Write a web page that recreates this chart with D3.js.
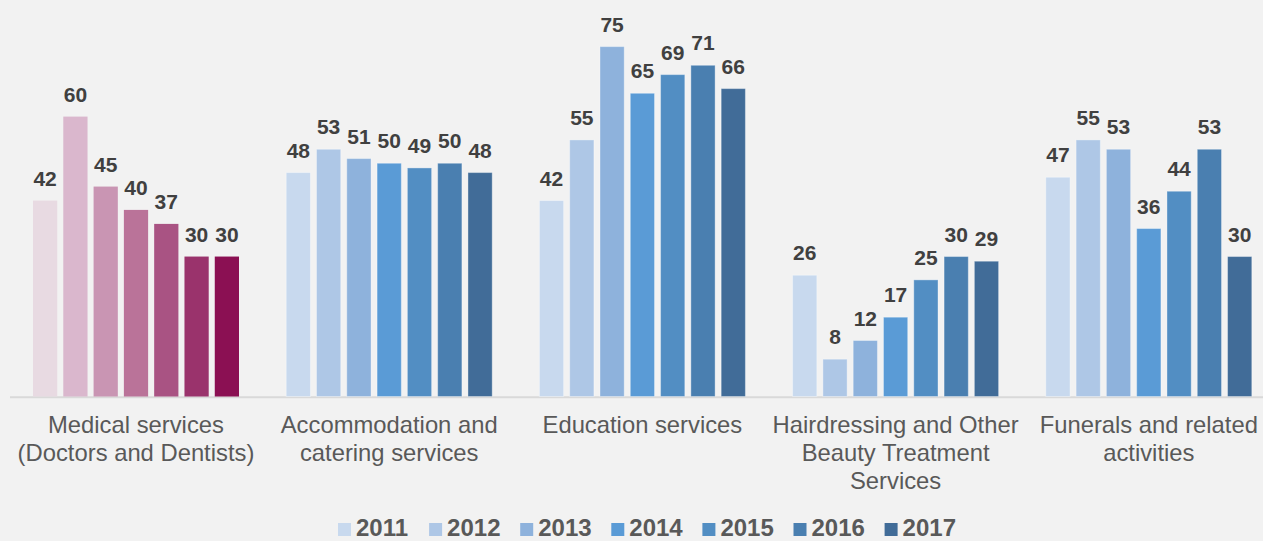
<!DOCTYPE html>
<html>
<head>
<meta charset="utf-8">
<script src="https://cdnjs.cloudflare.com/ajax/libs/d3/7.8.5/d3.min.js"></script>
<style>
  html, body { margin: 0; padding: 0; background: #f2f2f2; }
  svg { display: block; font-family: "Liberation Sans", Arial, sans-serif; }
</style>
</head>
<body>
<svg id="chart" width="1263" height="541"></svg>
<script>
// Service categories (each entry is one wrapped label)
const categories = [
  ["Medical services", "(Doctors and Dentists)"],
  ["Accommodation and", "catering services"],
  ["Education services"],
  ["Hairdressing and Other", "Beauty Treatment", "Services"],
  ["Funerals and related", "activities"]
];
const years = ["2011", "2012", "2013", "2014", "2015", "2016", "2017"];

// Values per category, one entry per year
const medical       = [42, 60, 45, 40, 37, 30, 30];
const accommodation = [48, 53, 51, 50, 49, 50, 48];
const education     = [42, 55, 75, 65, 69, 71, 66];
const hairdressing  = [26, 8, 12, 17, 25, 30, 29];
const funerals      = [47, 55, 53, 36, 44, 53, 30];

const seriesByCategory = [medical, accommodation, education, hairdressing, funerals];

// Year palettes: the medical group has its own shades
const blueColors = ["#c8d9ee", "#aec7e6", "#8eb2dc", "#5a9bd6", "#528ec3", "#4a7fb0", "#416c98"];
const pinkColors = ["#e8dae2", "#dab7cd", "#c995b3", "#ba7399", "#a95383", "#9a336c", "#8b1053"];

const svg = d3.select("#chart");
const baseY = 396.5;

const x0 = d3.scaleBand()
  .domain(d3.range(categories.length))
  .range([9.4, 9.4 + 253.2 * categories.length])
  .paddingInner(0).paddingOuter(0);

const x1 = d3.scaleBand()
  .domain(years)
  .range([23.6, 229.6])
  .paddingInner(0.2).paddingOuter(0);

const y = d3.scaleLinear().domain([0, 80]).range([baseY, 23.3]);

// Baseline
svg.append("line")
  .attr("x1", 10).attr("x2", 1263)
  .attr("y1", baseY + 0.8).attr("y2", baseY + 0.8)
  .attr("stroke", "#d9d9d9").attr("stroke-width", 2);

const groups = svg.selectAll("g.cat")
  .data(seriesByCategory)
  .join("g")
  .attr("class", "cat")
  .attr("transform", (d, i) => `translate(${x0(i)},0)`);

groups.each(function(vals, ci) {
  const g = d3.select(this);
  const palette = ci === 0 ? pinkColors : blueColors;
  const rows = vals.map((v, k) => ({ year: years[k], value: v, color: palette[k] }));

  g.selectAll("rect")
    .data(rows)
    .join("rect")
    .attr("x", d => x1(d.year))
    .attr("width", x1.bandwidth())
    .attr("y", d => y(d.value))
    .attr("height", d => baseY - y(d.value))
    .attr("fill", d => d.color)
    .attr("stroke", ci === 0 ? "none" : "rgba(255,255,255,0.35)")
    .attr("stroke-width", 1);

  g.selectAll("text.val")
    .data(rows)
    .join("text")
    .attr("class", "val")
    .attr("x", d => x1(d.year) + x1.bandwidth() / 2)
    .attr("y", d => y(d.value) - 15)
    .attr("text-anchor", "middle")
    .attr("font-size", 21)
    .attr("font-weight", "bold")
    .attr("fill", "#404040")
    .text(d => d.value);

  const label = g.append("text")
    .attr("text-anchor", "middle")
    .attr("font-size", 23.8)
    .attr("fill", "#595959");
  label.selectAll("tspan")
    .data(categories[ci])
    .join("tspan")
    .attr("x", x0.bandwidth() / 2)
    .attr("y", (d, k) => 432.5 + k * 28)
    .text(d => d);
});

// Legend
const legend = svg.append("g");
const legendX = d3.scaleLinear().domain([0, years.length - 1]).range([338, 338 + 91.1 * (years.length - 1)]);
const items = legend.selectAll("g")
  .data(years)
  .join("g")
  .attr("transform", (d, i) => `translate(${legendX(i)},0)`);
items.append("rect")
  .attr("x", 0).attr("y", 523)
  .attr("width", 13).attr("height", 13)
  .attr("fill", (d, i) => blueColors[i]);
items.append("text")
  .attr("x", 18).attr("y", 536)
  .attr("font-size", 24)
  .attr("font-weight", "bold")
  .attr("fill", "#595959")
  .text(d => d);
</script>
</body>
</html>
